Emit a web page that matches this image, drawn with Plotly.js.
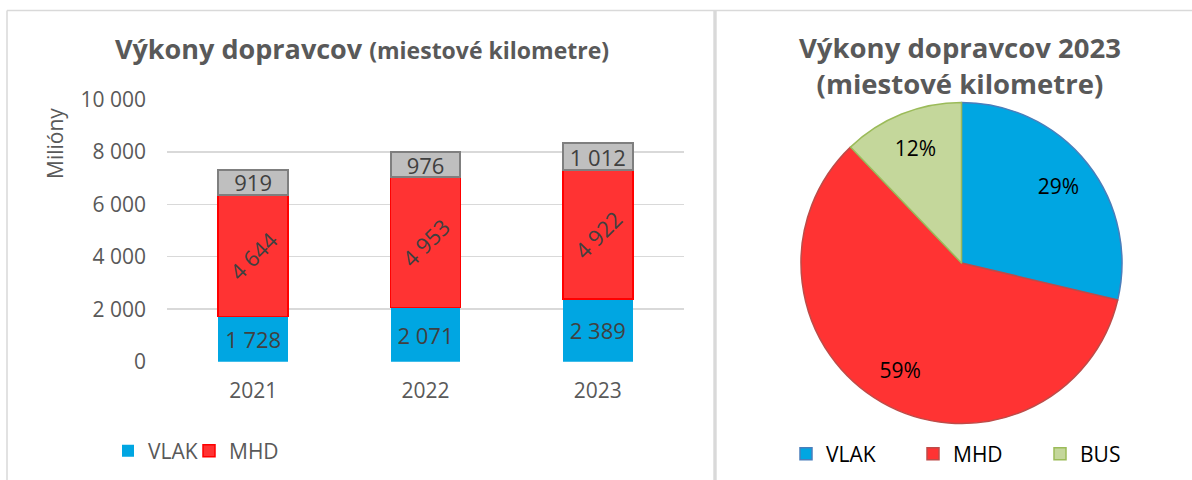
<!DOCTYPE html>
<html>
<head>
<meta charset="utf-8">
<script src="https://cdn.plot.ly/plotly-3.0.1.min.js"></script>
<style>
  html, body { margin: 0; padding: 0; background: #fff; }
  #chart { width: 1192px; height: 480px; }
</style>
</head>
<body>
<div id="chart"></div>
<script>
// data
const years = ['2021', '2022', '2023'];
const vlak = [1728, 2071, 2389];
const mhd = [4644, 4953, 4922];
const bus = [919, 976, 1012];

const pieLabels = ['VLAK', 'MHD', 'BUS'];
const pieValues = [2389, 4922, 1012];

const W = 1192, H = 480;
const px = x => x / W;
const py = y => 1 - y / H;

const FONT = 'Open Sans, sans-serif';
const GREY = '#595959';
const blue = '#00A6E2';
const red = '#FF3333';

let barBase = {
    type: 'bar',
    x: years,
    textposition: 'inside',
    insidetextanchor: 'middle',
    constraintext: 'none',
    texttemplate: '%{y:,d}',
    textfont: {family: FONT, size: 22, color: '#404040'},
    hoverinfo: 'skip'
};

let pieDomain = {x: [px(801), px(1122)], y: [py(423.5), py(102.5)]};

let traces = [
    Object.assign({}, barBase, {
        name: 'VLAK', y: vlak, legendwidth: 36,
        marker: {color: blue, line: {color: blue, width: 0}},
        textangle: 0
    }),
    Object.assign({}, barBase, {
        name: 'MHD', y: mhd, legendwidth: 60,
        marker: {color: red, line: {color: '#FF0000', width: 1.5}},
        textangle: -45
    }),
    Object.assign({}, barBase, {
        name: 'BUS', y: bus, showlegend: false,
        marker: {color: '#BFBFBF', line: {color: '#7F7F7F', width: 2}},
        textangle: 0
    }),
    {
        type: 'pie',
        labels: pieLabels,
        values: pieValues,
        sort: false,
        direction: 'clockwise',
        rotation: 0,
        domain: pieDomain,
        marker: {colors: [blue, red, '#C4D79B'],
                 line: {color: ['#4A7EBB', '#BE4B48', '#9BBB59'], width: 1.5}},
        textinfo: 'none',
        legend: 'legend2',
        hoverinfo: 'skip'
    },
    // transparent ring only to carry the percent labels further out
    {
        type: 'pie',
        labels: pieLabels,
        values: pieValues,
        sort: false,
        direction: 'clockwise',
        rotation: 0,
        hole: 0.54,
        domain: pieDomain,
        marker: {colors: ['rgba(0,0,0,0)', 'rgba(0,0,0,0)', 'rgba(0,0,0,0)'], line: {width: 0}},
        texttemplate: '%{percent:.0%}',
        textposition: 'inside',
        insidetextorientation: 'horizontal',
        textfont: {family: FONT, size: 21, color: '#000'},
        showlegend: false,
        legend: 'legend2',
        hoverinfo: 'skip'
    }
];

let layout = {
    width: W, height: H,
    autosize: false,
    margin: {l: 0, r: 0, t: 0, b: 0},
    paper_bgcolor: '#fff',
    plot_bgcolor: '#fff',
    separators: ', ',
    barmode: 'stack',
    bargap: 0.594,
    font: {family: FONT, color: GREY},
    title: {
        text: 'Výkony dopravcov <span style="font-size:23px">(miestové kilometre)</span>',
        font: {family: FONT, size: 27, weight: 700, color: GREY},
        x: px(362), xanchor: 'center', xref: 'paper',
        y: py(50), yanchor: 'middle', yref: 'paper'
    },
    xaxis: {
        domain: [px(167), px(684)],
        type: 'category',
        showgrid: false,
        showline: false,
        ticks: '',
        ticklabelstandoff: 14,
        tickfont: {family: FONT, size: 21, color: GREY}
    },
    yaxis: {
        domain: [py(361.7), py(99.3)],
        range: [0, 10000],
        dtick: 2000,
        tickformat: ',d',
        gridcolor: '#D9D9D9',
        gridwidth: 1.5,
        zeroline: false,
        showline: false,
        ticks: '',
        ticklabelstandoff: 20,
        tickfont: {family: FONT, size: 21, color: GREY}
    },
    legend: {
        orientation: 'h',
        traceorder: 'normal',
        x: px(108), xanchor: 'left',
        y: py(451), yanchor: 'middle',
        font: {family: FONT, size: 21, color: GREY},
        bgcolor: 'rgba(0,0,0,0)'
    },
    legend2: {
        orientation: 'h',
        x: px(786), xanchor: 'left',
        y: py(454), yanchor: 'middle',
        entrywidth: 82,
        font: {family: FONT, size: 21, color: '#000'},
        bgcolor: 'rgba(0,0,0,0)'
    },
    annotations: [
        {
            text: 'Milióny', textangle: -90,
            xref: 'paper', yref: 'paper',
            x: px(55), y: py(144), xanchor: 'center', yanchor: 'middle',
            showarrow: false,
            font: {family: FONT, size: 21, color: GREY}
        },
        {
            text: 'Výkony dopravcov 2023<br>(miestové kilometre)',
            xref: 'paper', yref: 'paper',
            x: px(960), y: py(66), xanchor: 'center', yanchor: 'middle',
            showarrow: false,
            font: {family: FONT, size: 27.5, weight: 700, color: GREY}
        }
    ],
    shapes: [
        {type: 'line', xref: 'paper', yref: 'paper', x0: px(7), x1: 1, y0: py(10.5), y1: py(10.5),
         line: {color: '#D9D9D9', width: 1.5}},
        {type: 'line', xref: 'paper', yref: 'paper', x0: px(7), x1: px(7), y0: py(10.5), y1: 0,
         line: {color: '#D9D9D9', width: 1.5}},
        {type: 'rect', xref: 'paper', yref: 'paper', x0: px(713.3), x1: px(716.7), y0: py(10), y1: 0,
         fillcolor: '#D9D9D9', line: {width: 0}}
    ]
};

Plotly.newPlot('chart', traces, layout, {displayModeBar: false, staticPlot: true});
</script>
</body>
</html>
